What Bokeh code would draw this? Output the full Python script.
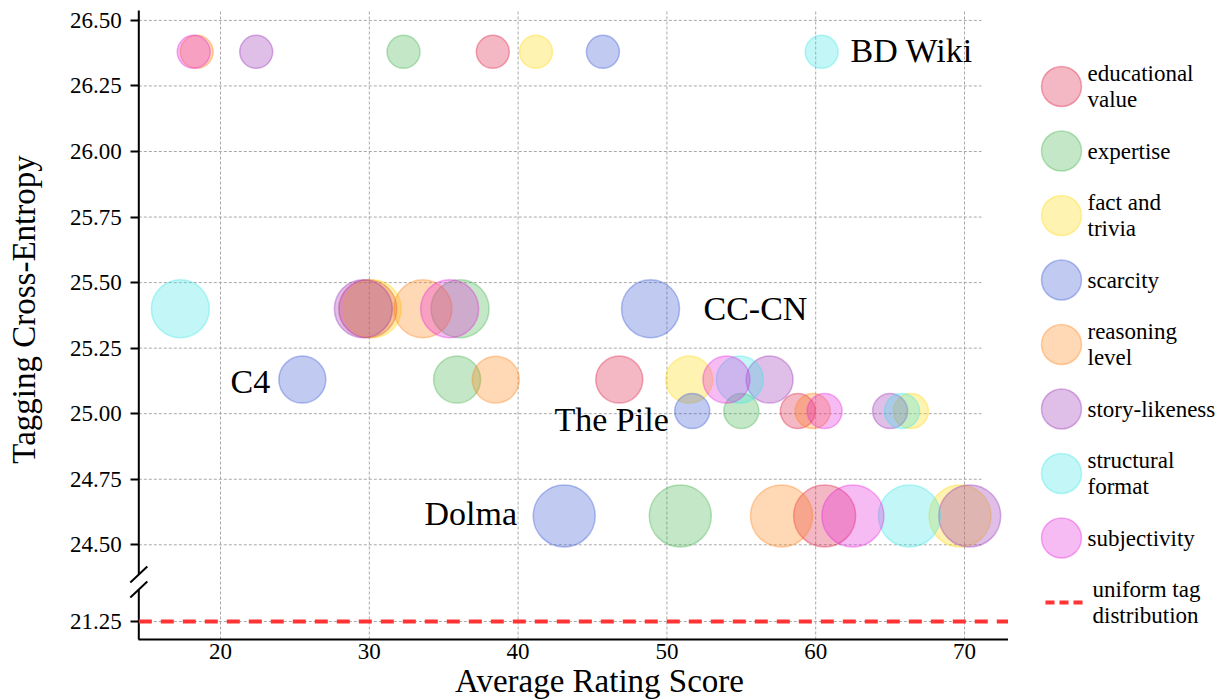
import math
from bokeh.plotting import figure
from bokeh.models import Range1d, FixedTicker, CustomJSTickFormatter, ColumnDataSource
from bokeh.layouts import row
from bokeh.embed import file_html
from bokeh.resources import INLINE
from bokeh.core.properties import value

# ---------------- data ----------------
categories = ["educational value", "expertise", "fact and trivia", "scarcity",
              "reasoning level", "story-likeness", "structural format", "subjectivity"]
legend_labels = ["educational\nvalue", "expertise", "fact and\ntrivia", "scarcity",
                 "reasoning\nlevel", "story-likeness", "structural\nformat", "subjectivity"]
datasets = ["BD Wiki", "CC-CN", "C4", "The Pile", "Dolma"]
dataset_entropy = [26.38, 25.40, 25.13, 25.01, 24.61]
uniform_entropy = 21.25

# average rating score, columns follow `datasets`
educational = [38.3, 29.9, 46.8, 58.8, 60.6]
expertise = [32.3, 36.1, 35.9, 55.0, 50.9]
fact = [41.2, 30.2, 51.5, 66.4, 69.7]
scarcity = [45.7, 48.9, 25.5, 51.7, 43.1]
reasoning = [18.4, 33.6, 38.5, 59.8, 57.7]
story = [22.4, 29.6, 56.9, 65.0, 70.35]
structural = [60.4, 17.3, 54.9, 65.8, 66.3]
subjectivity = [18.2, 35.4, 54.0, 60.6, 62.5]
scores = [educational, expertise, fact, scarcity, reasoning, story, structural, subjectivity]

x_ticks = [20, 30, 40, 50, 60, 70]
y_ticks_upper = [24.5, 24.75, 25.0, 25.25, 25.5, 25.75, 26.0, 26.25, 26.5]
y_ticks_lower = [21.25]

# ---------------- style / layout ----------------
colors = ["#dc143c", "#3caf46", "#ffd700", "#3250d2", "#ff7f0e", "#9628b4", "#37e4e4", "#e61edc"]
bubble_px = [33, 58, 47, 35, 62]          # marker diameter per dataset
SERIF = "Liberation Serif"

W, H = 1008, 700
# pixel <-> data calibration of the canvas
def px2x(px):
    return 20 + (px - 220.0) / 14.88

def py2y(py):
    return 24.5 + (544.3 - py) / 262.2

OFF = py2y(621) - 21.25          # lower (broken) segment shift in plot space
BRK = 24.3
XMIN, XMAX = px2x(138.3), px2x(1008)
YAX, YTOP = py2y(639), py2y(10)
GRID_END = px2x(981)
BRK_HI, BRK_LO = py2y(574), py2y(589)
SL_DX, SL_DY = 8.5 / 14.88, 8.0 / 262.2

label_pos = {"BD Wiki": (850, 50), "CC-CN": (703, 308), "C4": (230, 381),
             "The Pile": (554, 419), "Dolma": (424, 513)}

p = figure(width=W, height=H, x_range=Range1d(px2x(0), px2x(W)), y_range=Range1d(py2y(H), py2y(0)),
           output_backend="svg", toolbar_location=None, min_border=0)
p.outline_line_color = None
p.background_fill_color = "white"
p.border_fill_color = "white"
p.grid.visible = False

# grid lines
yt_all = y_ticks_upper + [v + OFF for v in y_ticks_lower]
p.segment(x0=[XMIN] * len(yt_all), y0=yt_all, x1=[GRID_END] * len(yt_all), y1=yt_all,
          line_color="#a8a8a8", line_dash="3 2", line_width=1, level="underlay")
p.segment(x0=x_ticks, y0=[YAX] * len(x_ticks), x1=x_ticks, y1=[YTOP] * len(x_ticks),
          line_color="#a8a8a8", line_dash="3 2", line_width=1, level="underlay")

# axes (library axes, pinned at the frame corner)
xa, ya = p.xaxis[0], p.yaxis[0]
xa.fixed_location = YAX
ya.fixed_location = XMIN
xa.bounds = (XMIN, XMAX)
ya.bounds = (YAX, YTOP)
xa.ticker = FixedTicker(ticks=x_ticks)
ya.ticker = FixedTicker(ticks=yt_all)
ya.formatter = CustomJSTickFormatter(args=dict(off=OFF, brk=BRK),
                                     code="const v = tick < brk ? tick - off : tick; return v.toFixed(2);")
for ax in (xa, ya):
    ax.major_label_text_font = SERIF
    ax.major_label_text_font_size = "23px"
    ax.major_label_text_color = "black"
    ax.minor_tick_line_color = None
xa.axis_line_width = 2
xa.axis_line_color = "black"
xa.major_tick_out = 0
xa.major_tick_in = 0
xa.major_label_standoff = 4
ya.axis_line_color = None
ya.major_tick_out = 8
ya.major_tick_in = 0
ya.major_tick_line_width = 2
ya.major_tick_line_color = "black"
ya.major_label_standoff = 9

# broken y spine with break marks
p.segment(x0=[XMIN, XMIN], y0=[BRK_HI, YAX], x1=[XMIN, XMIN], y1=[YTOP, BRK_LO],
          line_color="black", line_width=2)
p.segment(x0=[XMIN - SL_DX] * 2, y0=[BRK_HI - SL_DY, BRK_LO - SL_DY],
          x1=[XMIN + SL_DX] * 2, y1=[BRK_HI + SL_DY, BRK_LO + SL_DY],
          line_color="black", line_width=2)

# uniform reference line
p.line(x=[XMIN, XMAX], y=[uniform_entropy + OFF] * 2, line_color="#ff3333",
       line_width=4, line_dash="13 9")

# bubbles
for cat, col, vals in zip(categories, colors, scores):
    src = ColumnDataSource(dict(x=vals, y=dataset_entropy, s=bubble_px))
    p.scatter("x", "y", size="s", source=src, fill_color=col, fill_alpha=0.3,
              line_color=col, line_alpha=0.35, line_width=1.5)

# dataset labels
p.text(x=[px2x(label_pos[d][0]) for d in datasets], y=[py2y(label_pos[d][1]) for d in datasets],
       text=datasets, text_font=value(SERIF), text_font_size="34px", text_baseline="middle",
       text_align="left", text_color="black")

# axis titles
p.text(x=[px2x(23.8)], y=[py2y(309)], text=["Tagging Cross-Entropy"], angle=math.pi / 2,
       text_align="center", text_baseline="middle", text_font=value(SERIF),
       text_font_size="33px", text_color="black")
p.text(x=[px2x(599)], y=[py2y(680)], text=["Average Rating Score"], text_align="center",
       text_baseline="middle", text_font=value(SERIF), text_font_size="33px",
       text_color="black")

# ---------------- legend panel ----------------
LW, LH = 209, 700
lg = figure(width=LW, height=LH, x_range=Range1d(0, LW), y_range=Range1d(LH, 0),
            output_backend="svg", toolbar_location=None, min_border=0)
lg.axis.visible = False
lg.grid.visible = False
lg.outline_line_color = None
n = len(categories)
ly = [86 + i * 64.5 for i in range(n)]
lg.scatter(x=[53] * n, y=ly, size=40, fill_color=colors, fill_alpha=0.3,
           line_color=colors, line_alpha=0.35, line_width=1.5)
lg.text(x=[79] * n, y=ly, text=legend_labels, text_font=value(SERIF), text_font_size="23px",
        text_baseline="middle", text_align="left", text_line_height=1.06, text_color="black")
uy = 86 + n * 64.5
lg.line(x=[37, 74], y=[uy, uy], line_color="#ff3333", line_width=4, line_dash="9 5")
lg.text(x=[84], y=[uy], text=["uniform tag\ndistribution"], text_font=value(SERIF),
        text_font_size="23px", text_baseline="middle", text_align="left",
        text_line_height=1.06, text_color="black")

layout = row(p, lg)
open("out.html", "w").write(file_html(layout, INLINE))
